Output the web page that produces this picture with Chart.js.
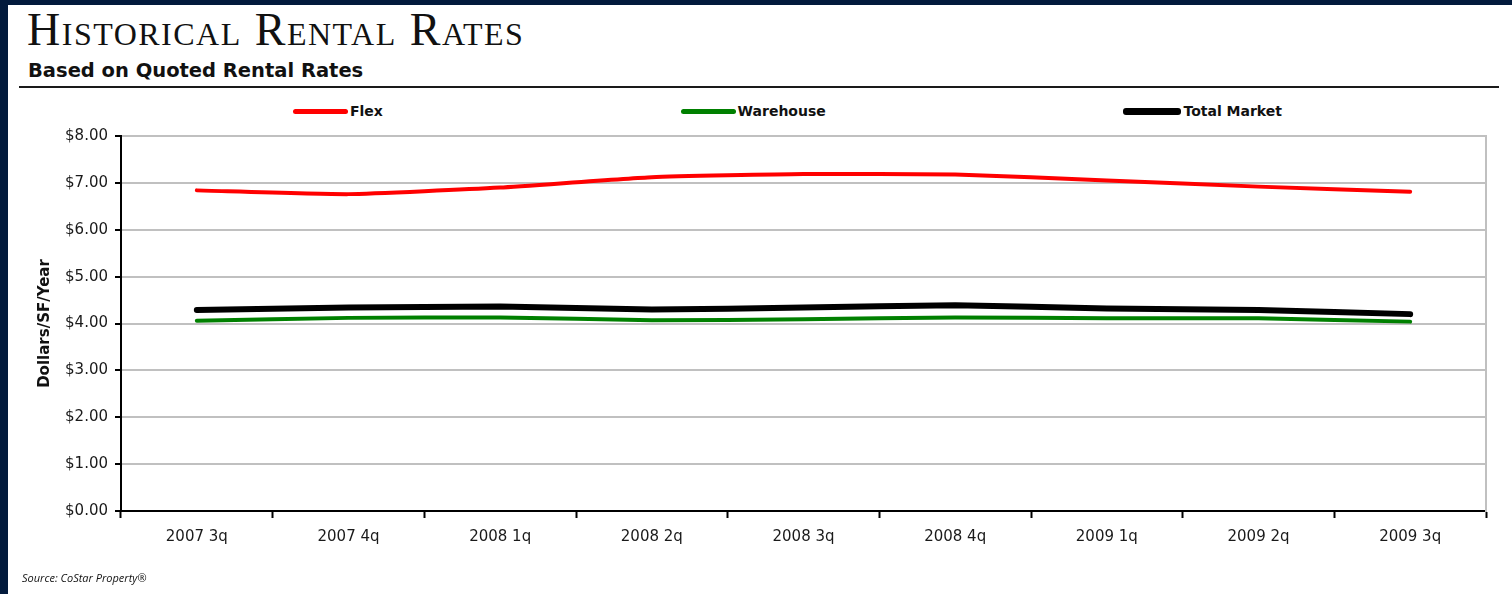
<!DOCTYPE html>
<html>
<head>
<meta charset="utf-8">
<script src="https://cdn.jsdelivr.net/npm/chart.js@4.4.1/dist/chart.umd.min.js"></script>
<style>
    html, body { margin: 0; padding: 0; }
    body { width: 1512px; height: 594px; background: #021a3c; overflow: hidden; position: relative; }
    #panel { position: absolute; left: 8px; top: 5px; right: 0; bottom: 0; background: #fff; }
    #title { position: absolute; left: 27px; top: 7px; font-family: 'Liberation Serif', serif; font-size: 46px; line-height: 1; letter-spacing: 1.5px; font-variant: small-caps; color: #111; white-space: nowrap; }
    #subtitle { position: absolute; left: 28px; top: 61px; font-family: 'DejaVu Sans', sans-serif; font-weight: bold; font-size: 19.5px; line-height: 1; color: #111; white-space: nowrap; }
    #rule { position: absolute; left: 19px; top: 86px; width: 1480px; height: 2px; background: #1a1a1a; }
    #legend { position: absolute; left: 293px; top: 102px; width: 989px; height: 18px; display: flex; justify-content: space-between; align-items: center; }
    .item { display: flex; align-items: center; font-family: 'DejaVu Sans', sans-serif; font-weight: bold; font-size: 14px; color: #111; }
    .swatch { display: inline-block; width: 55px; border-radius: 3px; margin-right: 2px; }
    #chartBox { position: absolute; left: 8px; top: 100px; }
    #source { position: absolute; left: 22px; top: 570px; font-family: 'Open Sans', sans-serif; font-style: italic; font-size: 11px; color: #111; }
</style>
</head>
<body>
<div id="panel"></div>
<div id="title">Historical Rental Rates</div>
<div id="subtitle">Based on Quoted Rental Rates</div>
<div id="rule"></div>
<div id="legend"></div>
<div id="chartBox"><canvas id="rentChart" width="1504" height="494"></canvas></div>
<div id="source">Source: CoStar Property®</div>

<script>
const quarters = ['2007 3q', '2007 4q', '2008 1q', '2008 2q', '2008 3q', '2008 4q', '2009 1q', '2009 2q', '2009 3q'];
const flex = [6.84, 6.76, 6.90, 7.12, 7.19, 7.18, 7.05, 6.92, 6.81];
const warehouse = [4.06, 4.12, 4.13, 4.07, 4.09, 4.13, 4.11, 4.11, 4.04];
const totalMarket = [4.29, 4.34, 4.36, 4.30, 4.34, 4.39, 4.32, 4.29, 4.20];
const yTicks = [0, 1, 2, 3, 4, 5, 6, 7, 8];

const tickFont = { family: 'DejaVu Sans', size: 15 };

function series(label, data, color, width) {
    return {
        label,
        data,
        borderColor: color,
        backgroundColor: color,
        borderWidth: width,
        borderCapStyle: 'round',
        pointRadius: 0,
        tension: 0.15,
        fill: false
    };
}

const ctx = document.getElementById('rentChart').getContext('2d');

const chart = new Chart(ctx, {
    type: 'line',
    data: {
        labels: quarters,
        datasets: [
            series('Flex', flex, '#ff0000', 4),
            series('Warehouse', warehouse, '#008000', 4),
            series('Total Market', totalMarket, '#000000', 6)
        ]
    },
    options: {
        responsive: false,
        animation: false,
        layout: { padding: { left: 0, right: 0, top: 36, bottom: 0 } },
        plugins: {
            legend: { display: false },
            tooltip: { enabled: false }
        },
        scales: {
            x: {
                offset: true,
                grid: {
                    offset: true,
                    drawOnChartArea: false,
                    tickColor: '#000',
                    tickWidth: 2,
                    tickLength: 7
                },
                border: { color: '#000', width: 2 },
                ticks: { color: '#1a1a1a', font: tickFont, padding: 10, maxRotation: 0 },
                afterFit: scale => { scale.height = 83; }
            },
            y: {
                min: 0,
                max: 8,
                afterBuildTicks: scale => { scale.ticks = yTicks.map(v => ({ value: v })); },
                grid: {
                    color: '#c0c0c0',
                    lineWidth: 2,
                    tickColor: '#000',
                    tickWidth: 2,
                    tickLength: 6
                },
                border: { color: '#000', width: 2 },
                ticks: {
                    color: '#1a1a1a',
                    font: tickFont,
                    padding: 7,
                    callback: v => '$' + Number(v).toFixed(2)
                },
                title: {
                    display: true,
                    text: 'Dollars/SF/Year',
                    color: '#111',
                    font: { family: 'DejaVu Sans', size: 15, weight: 'bold' },
                    padding: { top: 28, bottom: 0 }
                },
                afterFit: scale => { scale.width = 113; }
            },
            frame: {
                position: 'right',
                grid: { display: false },
                ticks: { display: false },
                border: { color: '#c0c0c0', width: 2 },
                afterFit: scale => { scale.width = 26; }
            }
        }
    }
});

// legend row built from the dataset styles
const legendBox = document.getElementById('legend');
chart.data.datasets.forEach(ds => {
    const item = document.createElement('div');
    item.className = 'item';
    const swatch = document.createElement('span');
    swatch.className = 'swatch';
    swatch.style.background = ds.borderColor;
    swatch.style.height = (ds.borderWidth + 1) + 'px';
    if (ds.label === 'Total Market') swatch.style.width = '58px';
    item.appendChild(swatch);
    item.appendChild(document.createTextNode(ds.label));
    legendBox.appendChild(item);
});
</script>
</body>
</html>
